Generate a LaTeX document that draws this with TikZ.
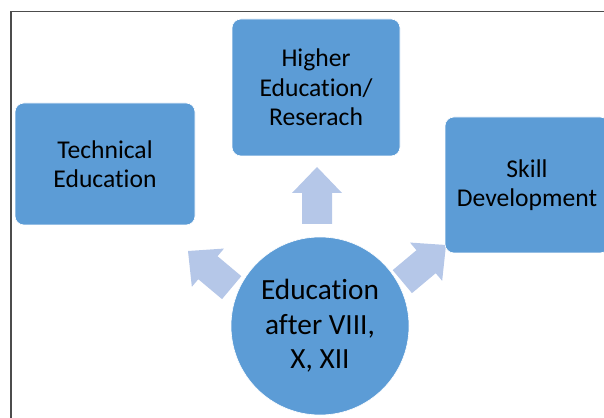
\documentclass[tikz,border=0pt]{standalone}
\usepackage{fontspec}
\setmainfont{Carlito}[Ligatures=NoCommon]
\definecolor{officeblue}{rgb}{0.36, 0.61, 0.84}
\definecolor{paleblue}{rgb}{0.71, 0.78, 0.91}
\definecolor{framegray}{rgb}{0.3, 0.3, 0.3}

\begin{document}
\begin{tikzpicture}[x=1pt,y=1pt,
  topic/.style={rectangle, rounded corners=9pt, fill=officeblue, draw=white,
    line width=0.6pt, align=center, inner sep=0pt,
    font=\fontsize{25.6}{29.5}\selectfont},
  hub/.style={circle, fill=officeblue, draw=white, line width=0.6pt,
    minimum size=178pt, inner sep=0pt, align=center,
    font=\fontsize{29.3}{34.5}\selectfont}]
  \useasboundingbox (0,0) rectangle (604,417);
  \clip (0,0) rectangle (604,417);

  % slide frame
  \draw[framegray, line width=1.2pt] (11,-5) -- (11,405.5) -- (610,405.5);

  \coordinate (tipL) at (188,166);
  \coordinate (tipU) at (317,250);
  \coordinate (tipR) at (446,172);

  % block arrows
  \foreach \tip / \ang in {tipL/140, tipU/90, tipR/40}
  {
    \fill[paleblue, shift={(\tip)}, rotate=\ang]
      (0,0) -- (-26,25) -- (-26,15) -- (-57,15) -- (-57,-15) -- (-26,-15) -- (-26,-25) -- cycle;
  }

  \node[topic, minimum width=180pt, minimum height=122pt] (tech) at (105,253) {Technical\\Education};
  \node[topic, minimum width=168pt, minimum height=137pt] (higher) at (316,329.5) {Higher\\Education/\\Reserach};
  \node[topic, minimum width=164pt, minimum height=136pt] (skill) at (527,232) {Skill\\Development};

  \node[hub] (edu) at (320,91) {Education\\after VIII,\\X, XII};

\end{tikzpicture}
\end{document}
